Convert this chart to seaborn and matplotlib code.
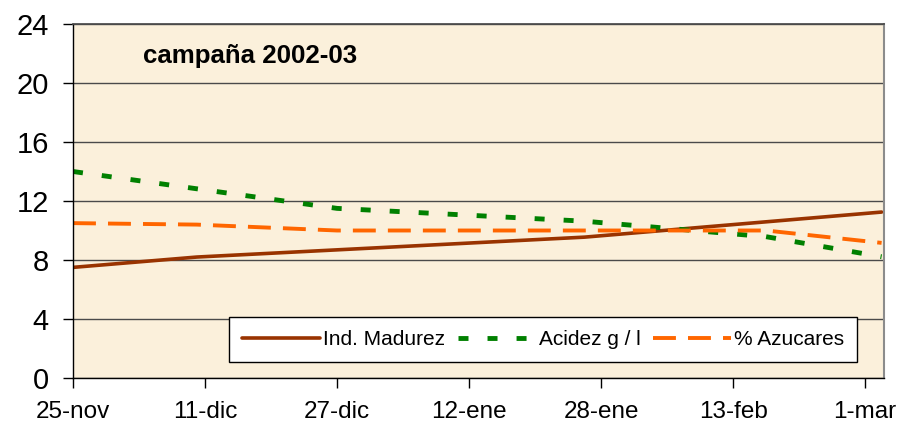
import pandas as pd
import matplotlib
matplotlib.use("Agg")
import matplotlib.pyplot as plt
import seaborn as sns

# Data (campaña 2002-03)
madurez_fechas = ["2002-11-25", "2002-12-10", "2003-01-26", "2003-03-03"]
madurez_valores = [7.5, 8.2, 9.55, 11.25]

acidez_fechas = ["2002-11-25", "2002-12-27", "2003-01-26", "2003-02-17", "2003-03-03"]
acidez_valores = [14.0, 11.5, 10.63, 9.58, 8.22]

azucar_fechas = ["2002-11-25", "2002-12-10", "2002-12-27", "2003-02-17", "2003-03-03"]
azucar_valores = [10.5, 10.4, 10.0, 10.0, 9.16]

tick_fechas = ["2002-11-25", "2002-12-11", "2002-12-27", "2003-01-12",
               "2003-01-28", "2003-02-13", "2003-03-01"]
tick_labels = ["25-nov", "11-dic", "27-dic", "12-ene", "28-ene", "13-feb", "1-mar"]

sns.set_theme(style="white")
plt.rcParams["font.family"] = ["Liberation Sans", "DejaVu Sans"]
plt.rcParams["lines.scale_dashes"] = False

fig = plt.figure(figsize=(9.07, 4.24), dpi=100)
ax = fig.add_axes([73 / 907, 1 - 378 / 424, 811 / 907, 354 / 424])
ax.set_facecolor("#FBF0DB")

madurez = pd.DataFrame({"fecha": pd.to_datetime(madurez_fechas), "valor": madurez_valores})
acidez = pd.DataFrame({"fecha": pd.to_datetime(acidez_fechas), "valor": acidez_valores})
azucar = pd.DataFrame({"fecha": pd.to_datetime(azucar_fechas), "valor": azucar_valores})

sns.lineplot(data=madurez, x="fecha", y="valor", ax=ax, color="#993300",
             linewidth=2.6, label="Ind. Madurez")
sns.lineplot(data=acidez, x="fecha", y="valor", ax=ax, color="#008000",
             linewidth=3.5, linestyle=(0, (7.2, 13.7)), label="Acidez g / l")
sns.lineplot(data=azucar, x="fecha", y="valor", ax=ax, color="#FF6600",
             linewidth=2.8, linestyle=(0, (16.5, 8.7)), label="% Azucares")
for ln in ax.get_lines():
    ln.set_dash_capstyle("butt")
    ln.set_solid_capstyle("round")

ax.set_ylim(0, 24)
ax.set_yticks(range(0, 25, 4))
ax.set_xlim(pd.Timestamp("2002-11-25"), pd.Timestamp("2003-03-03 07:00"))
ax.set_xticks(pd.to_datetime(tick_fechas))
ax.set_xticklabels(tick_labels)
ax.set_xlabel("")
ax.set_ylabel("")
ax.yaxis.grid(True, color="#4a4a4a", linewidth=1.0)
ax.xaxis.grid(False)
ax.set_axisbelow(True)

ax.tick_params(axis="both", colors="black", direction="out",
               length=7.5, width=1.0)
ax.tick_params(axis="y", pad=10, labelsize=21)
ax.tick_params(axis="x", pad=9, labelsize=17.5)
ax.tick_params(left=True, bottom=True)

for side in ["left", "bottom"]:
    ax.spines[side].set_color("black")
    ax.spines[side].set_linewidth(1.0)
ax.spines["top"].set_color("#4a4a4a")
ax.spines["right"].set_color("#8c8c8c")
ax.spines["right"].set_linewidth(1.5)

ax.text(0.0863, 0.89, "campaña 2002-03", transform=ax.transAxes, color="black",
        fontsize=18.6, fontweight="bold", va="baseline", ha="left")

leg = ax.legend(loc="lower left", bbox_to_anchor=(0.1924, 0.0452), ncol=3,
                fontsize=15, frameon=True, fancybox=False, framealpha=1,
                edgecolor="black", handlelength=3.75, handletextpad=0.15,
                columnspacing=0.6, borderpad=0.62, borderaxespad=0)
leg.get_frame().set_linewidth(1.0)
for t in leg.get_texts():
    t.set_color("black")

fig.savefig("out.png", dpi=100)
